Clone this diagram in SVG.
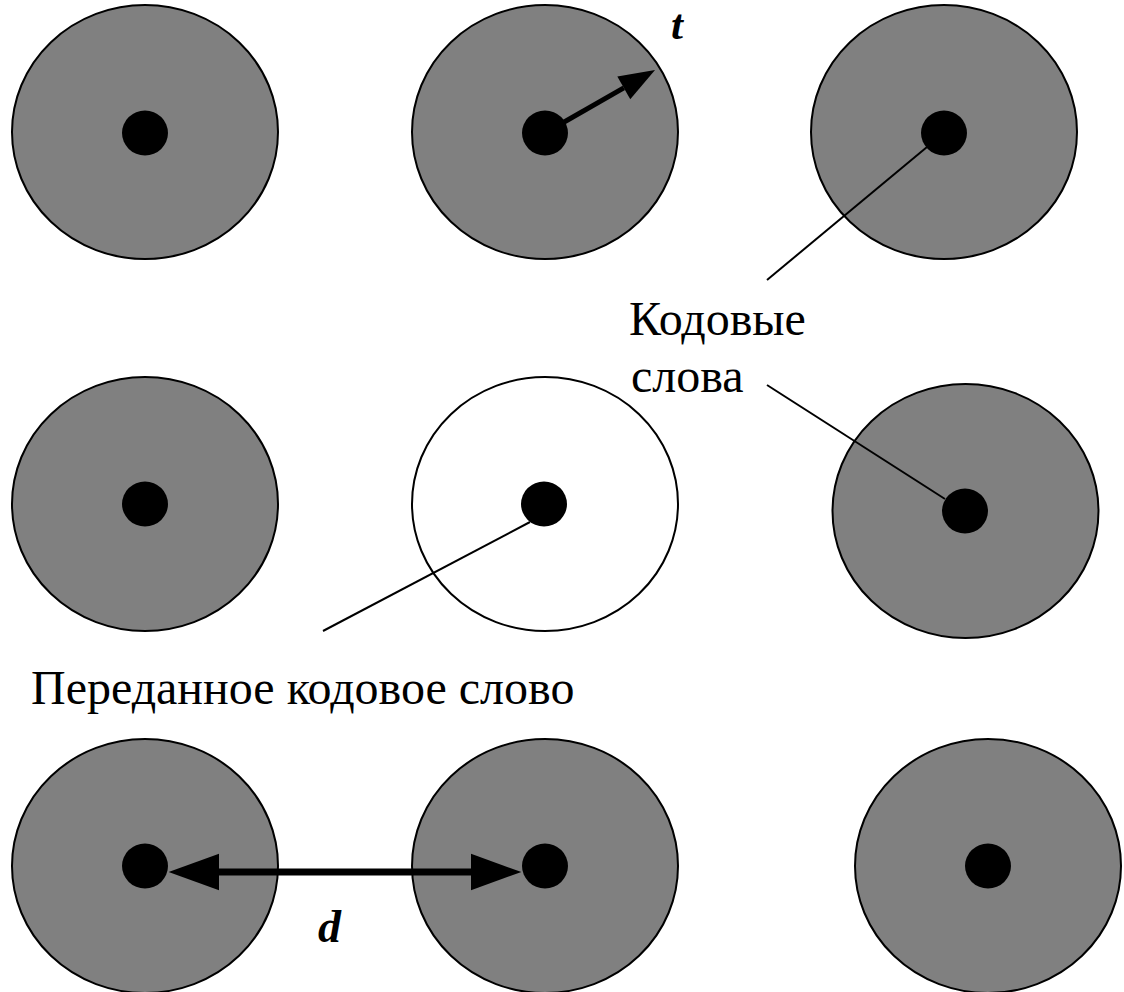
<svg xmlns="http://www.w3.org/2000/svg" width="1124" height="992" viewBox="0 0 1124 992">
<style>
.zone{fill:#808080;stroke:#000;stroke-width:2}
.zone.sent{fill:#fff}
.dot{fill:#000}
.leader{stroke:#000;stroke-width:2;fill:none}
.arrow{stroke:#000;fill:none}
.lbl{font-family:"Liberation Serif","Times New Roman",serif;font-size:48px;fill:#000}
.var{font-family:"Liberation Serif","Times New Roman",serif;font-size:46px;font-weight:bold;font-style:italic;fill:#000}
</style>
<defs>
<marker id="head" markerUnits="strokeWidth" markerWidth="7.2" markerHeight="5.2" refX="0" refY="2.6" orient="auto-start-reverse" overflow="visible">
<path d="M0,0 L7.2,2.6 L0,5.2 z" fill="#000"/>
</marker>
</defs>
<rect width="1124" height="992" fill="#fff"/>
<g id="cw-r1c1"><ellipse class="zone" cx="145" cy="132" rx="133" ry="127"/><ellipse class="dot" cx="145" cy="133" rx="23" ry="22.5"/></g>
<g id="cw-r1c2"><ellipse class="zone" cx="545" cy="132" rx="133" ry="127"/><ellipse class="dot" cx="545" cy="133" rx="23" ry="22.5"/></g>
<g id="cw-r1c3"><ellipse class="zone" cx="944" cy="132" rx="133" ry="127"/><ellipse class="dot" cx="944" cy="133" rx="23" ry="22.5"/></g>
<g id="cw-r2c1"><ellipse class="zone" cx="145" cy="504" rx="133" ry="127"/><ellipse class="dot" cx="145" cy="504" rx="23" ry="22.5"/></g>
<g id="cw-sent"><ellipse class="zone sent" cx="545" cy="504" rx="133" ry="127"/><ellipse class="dot" cx="544" cy="504" rx="23" ry="22.5"/></g>
<g id="cw-r2c3"><ellipse class="zone" cx="965.5" cy="511" rx="133" ry="127"/><ellipse class="dot" cx="965" cy="511" rx="23" ry="22.5"/></g>
<g id="cw-r3c1"><ellipse class="zone" cx="145" cy="866" rx="133" ry="127"/><ellipse class="dot" cx="145" cy="866" rx="23" ry="22.5"/></g>
<g id="cw-r3c2"><ellipse class="zone" cx="545" cy="866" rx="133" ry="127"/><ellipse class="dot" cx="545" cy="866" rx="23" ry="22.5"/></g>
<g id="cw-r3c3"><ellipse class="zone" cx="988" cy="866" rx="133" ry="127"/><ellipse class="dot" cx="988" cy="866" rx="23" ry="22.5"/></g>
<g id="connectors">
<line class="arrow" x1="545" y1="133" x2="623.8" y2="87.9" stroke-width="5" marker-end="url(#head)"/>
<line class="arrow" x1="219" y1="872" x2="471" y2="872" stroke-width="7" marker-start="url(#head)" marker-end="url(#head)"/>
<line class="leader" x1="927" y1="147" x2="767" y2="280"/>
<line class="leader" x1="767" y1="385" x2="945" y2="499"/>
<line class="leader" x1="530" y1="522" x2="323" y2="631"/>
</g>
<g id="labels">
<text class="var" x="671" y="39" style="font-size:43px">t</text>
<text class="var" x="318" y="942">d</text>
<text class="lbl" x="629" y="335">Кодовые</text>
<text class="lbl" x="631" y="392">слова</text>
<text class="lbl" x="31" y="704">Переданное кодовое слово</text>
</g>
</svg>
